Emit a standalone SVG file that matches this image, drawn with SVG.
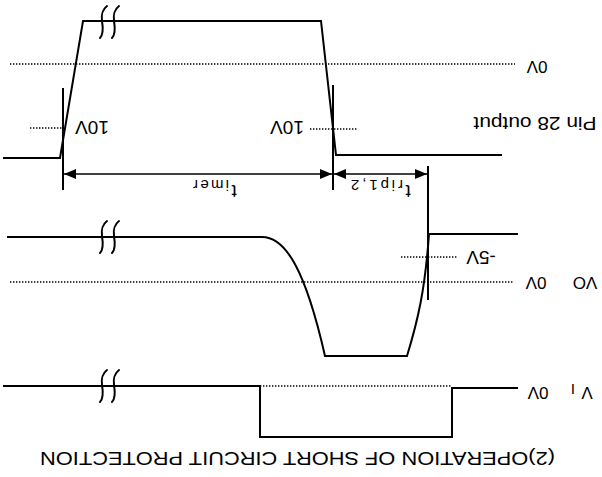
<svg xmlns="http://www.w3.org/2000/svg" width="602" height="477" viewBox="0 0 602 477">
<style>
.w{fill:none;stroke:#000;stroke-width:2;stroke-linejoin:miter}
.d{fill:none;stroke:#000;stroke-width:1.3;stroke-dasharray:1.4 1.6}
.m{fill:none;stroke:#000;stroke-width:2}
.b{fill:none;stroke:#000;stroke-width:2;stroke-linecap:round}
.a{fill:none;stroke:#000;stroke-width:1.6}
text{font-family:"Liberation Sans",Arial,Helvetica,sans-serif;fill:#000}
.l{font-size:19px;text-anchor:middle}
.s{font-size:17px;text-anchor:middle}
.sub{font-size:15px;text-anchor:middle}
</style>
<defs>
<marker id="ah" viewBox="0 0 12 10" refX="12" refY="5" markerWidth="12" markerHeight="10" markerUnits="userSpaceOnUse" orient="auto-start-reverse"><path d="M0,0 L12,5 L0,10 z" fill="#000"/></marker>
<path id="brk" class="b" d="M4,-16 C0,-13 -2,-7 -1,-1 C0,5 1,12 -3,16 M16,-16 C12,-13 10,-7 11,-1 C12,5 13,12 9,16"/>
</defs>
<rect width="602" height="477" fill="#fff"/>

<g id="pin28">
<path class="w" d="M3,158 L60,158 L83,21 L321,21 L336,155 L502,155"/>
<use href="#brk" x="103" y="22"/>
<path class="d" d="M10,64 H515"/>
<path class="d" d="M30,128 H63"/>
<path class="d" d="M310,129 H358"/>
<text class="s" transform="translate(537,61) rotate(180)">0V</text>
<text class="l" transform="translate(535,117) rotate(180)" textLength="123" lengthAdjust="spacingAndGlyphs">Pin 28 output</text>
<text class="l" transform="translate(92,121) rotate(180)">10V</text>
<text class="l" transform="translate(287,121) rotate(180)">10V</text>
</g>

<g id="vo">
<path class="w" d="M7,237 H262 C285,237 305,268 325,356 H407 C418,320 425,290 429,234 H518"/>
<use href="#brk" x="103" y="237"/>
<path class="d" d="M10,282 H513"/>
<path class="d" d="M401,257 H457"/>
<text class="l" transform="translate(481,251) rotate(180)">-5V</text>
<text class="s" transform="translate(536,277) rotate(180)">0V</text>
<text class="s" transform="translate(585,277) rotate(180)">VO</text>
</g>

<g id="vi">
<path class="w" d="M3,386 H260 V437 H452 V388 H518"/>
<path class="d" d="M260,386 H452"/>
<use href="#brk" x="103" y="386"/>
<text class="s" transform="translate(538,387) rotate(180)">0V</text>
<text class="s" transform="translate(587,387) rotate(180)">V</text>
<text class="sub" font-size="12" transform="translate(573,384) rotate(180)">I</text>
</g>

<g id="markers">
<path class="m" d="M63,88 V190"/>
<path class="m" d="M333,85 V190"/>
<path class="m" d="M428,166 V300"/>
</g>

<g id="connectors">
<path class="a" d="M64,174 H332" marker-start="url(#ah)" marker-end="url(#ah)"/>
<path class="a" d="M334,174 H427" marker-start="url(#ah)" marker-end="url(#ah)"/>
</g>

<g id="timer-label">
<text class="l" transform="translate(234,185) rotate(180)">t</text>
<text class="sub" transform="translate(211,180) rotate(180)" textLength="36" lengthAdjust="spacing">imer</text>
</g>
<g id="trip-label">
<text class="l" transform="translate(408,185) rotate(180)">t</text>
<text class="sub" transform="translate(377,180) rotate(180)" textLength="52" lengthAdjust="spacing">rip1,2</text>
</g>

<g id="title">
<text class="l" font-size="21" transform="translate(297.5,452) rotate(180)" textLength="515" lengthAdjust="spacingAndGlyphs">(2)OPERATION OF SHORT CIRCUIT PROTECTION</text>
</g>
</svg>
